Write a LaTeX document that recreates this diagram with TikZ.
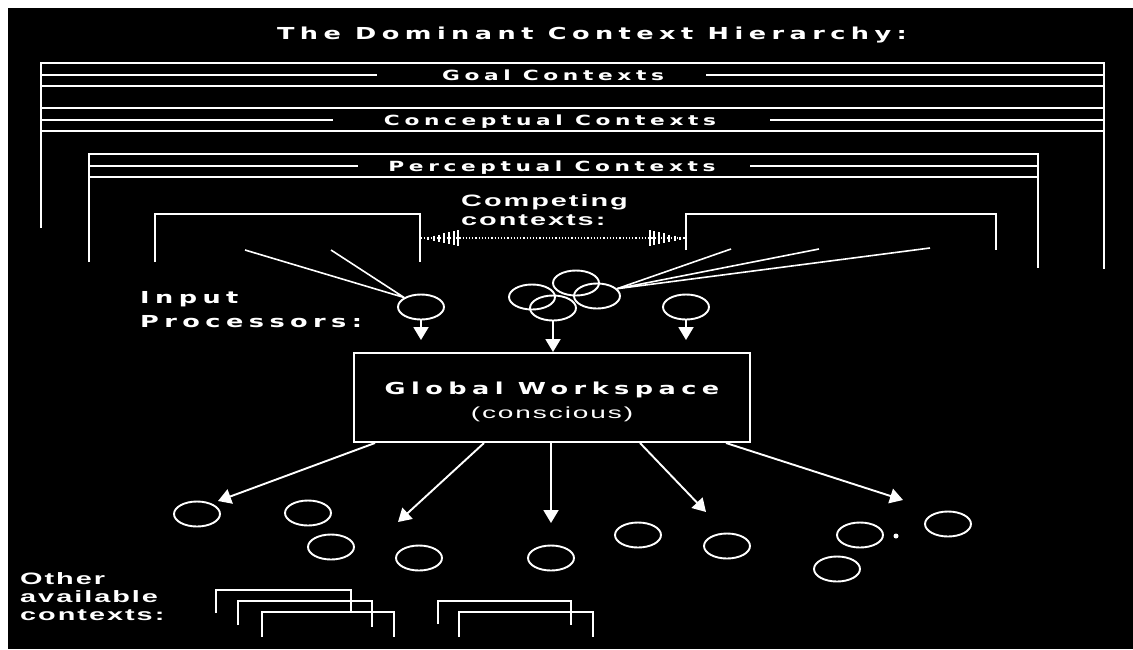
\documentclass[tikz,border=0pt]{standalone}
\usepackage{fontspec}
\setmainfont{Liberation Sans}
\newfontfamily\pixfont{DejaVu Sans}[FakeStretch=1.55,LetterSpace=33]
\newfontfamily\wfont{Liberation Sans}[FakeStretch=1.75,LetterSpace=12]
\usetikzlibrary{arrows.meta,shapes.geometric}
\begin{document}
\begin{tikzpicture}[x=1pt, y=-1pt, white,
  ctx/.style={line width=2.5pt},
  fan/.style={line width=1.6pt},
  hdr/.style={font=\pixfont\bfseries\fontsize{16.5}{24}\selectfont, inner sep=0pt},
  lvl/.style={font=\pixfont\bfseries\fontsize{14}{16}\selectfont, inner sep=0pt, anchor=base},
  lbl/.style={font=\wfont\bfseries\fontsize{16.5}{19}\selectfont, align=left, inner sep=0pt, anchor=west},
  proc/.style={draw, ellipse, line width=1.9pt, minimum width=46pt, minimum height=25pt, inner sep=0pt},
  dot/.style={circle, fill, minimum size=5pt, inner sep=0pt},
  arr/.style={-{Triangle[width=15pt,length=13pt]}, line width=1.9pt}]
  \useasboundingbox (0,0) rectangle (1133,649);
  \fill[white] (0,0) rectangle (1133,649);
  \fill[black] (8,8) rectangle (1133,649);
  \node[hdr, anchor=base] (title) at (592,39) {The Dominant Context Hierarchy:};
  \draw[ctx] (41,228) |- (1104,63) -- (1104,269);
  \draw[ctx] (41,86) -- (1104,86) (41,108) -- (1104,108) (41,131) -- (1104,131);
  \draw[ctx] (89,262) |- (1038,154) -- (1038,268);
  \draw[ctx] (89,177) -- (1038,177);
  \node[lvl] (goal) at (553,80) {Goal Contexts};
  \node[lvl] (conc) at (550,125) {Conceptual Contexts};
  \node[lvl] (perc) at (552,171) {Perceptual Contexts};
  \draw[ctx] (41,75) -- (377,75) (706,75) -- (1104,75);
  \draw[ctx] (41,120) -- (333,120) (770,120) -- (1104,120);
  \draw[ctx] (89,166) -- (358,166) (750,166) -- (1038,166);
  \node[lbl] (comp) at (461,210) {Competing\\contexts:};
  \draw[ctx] (155,262) |- (420,214) -- (420,262);
  \draw[ctx] (686,250) |- (996,214) -- (996,250);
  \coordinate (cl) at (421,238);
  \coordinate (cr) at (685,238);
  \draw[line width=1.2pt, dash pattern=on 1.2pt off 2pt] (cl) -- (cr);
  \foreach \x/\h in {428/1.5, 434/2.5, 439/3.5, 444/5, 449/6, 454/7, 458/8, 650/8, 654/7, 659/6, 664/5, 669/3.5, 675/2.5, 680/1.5}
    \draw[line width=1.4pt] (\x,238-\h) -- (\x,238+\h);
  \node[lbl, font=\pixfont\bfseries\fontsize{16.5}{24}\selectfont] (inlbl) at (140,310) {Input\\Processors:};
  \node[proc] (inp) at (421,307) {};
  \node[proc] (c1) at (532,297) {};
  \node[proc] (c2) at (576,283) {};
  \node[proc] (c3) at (553,308) {};
  \node[proc] (c4) at (597,296) {};
  \node[proc] (rp) at (686,307) {};
  \coordinate (f1) at (245,250);
  \coordinate (f2) at (331,250);
  \draw[fan] (f1) -- (inp.north west) (f2) -- (inp.north west);
  \coordinate (g1) at (731,249);
  \coordinate (g2) at (819,249);
  \coordinate (g3) at (930,248);
  \foreach \g in {g1,g2,g3} \draw[fan] (c4.20) -- (\g);
  \node[draw, line width=2pt, minimum width=396pt, minimum height=89pt, align=center,
    font=\fontsize{16}{24}\selectfont] (gw) at (552,397.5)
    {{\pixfont\bfseries\fontsize{16.5}{24}\selectfont\rule{0pt}{20.5pt}Global Workspace}\\
     {\wfont\fontsize{16}{18}\selectfont (conscious)}};
  \coordinate (ia) at (421,340);
  \coordinate (ra) at (686,340);
  \draw[arr] (inp) -- (ia);
  \draw[arr] (rp) -- (ra);
  \draw[arr] (c3) -- (c3 |- gw.north);
  \coordinate (t1) at (218,501);
  \coordinate (t2) at (398,522);
  \coordinate (t3) at (551,523);
  \coordinate (t4) at (706,512);
  \coordinate (t5) at (903,500);
  \foreach \dx/\t in {-177/t1, -68/t2, -1/t3, 88/t4, 174/t5}
    \draw[arr] ([xshift=\dx pt]gw.south) -- (\t);
  \foreach \n/\x/\y in {b1/197/514, b2/308/513, b3/331/547, b4/419/558, b5/551/558,
    b6/638/535, b7/727/546, b8/860/535, b9/837/569, b10/948/524}
    \node[proc] (\n) at (\x,\y) {};
  \node[dot] (dt) at (896,536) {};
  \node[lbl, font=\wfont\bfseries\fontsize{16.5}{18}\selectfont] (other) at (20,597) {Other\\available\\contexts:};
  \foreach \xa/\xb/\yt/\ya/\yb in {216/351/590/613/613, 238/372/601/625/627, 262/394/612/637/637,
    438/571/601/624/625, 459/593/612/637/637}
    \draw[ctx] (\xa,\ya) |- (\xb,\yt) -- (\xb,\yb);
\end{tikzpicture}
\end{document}
